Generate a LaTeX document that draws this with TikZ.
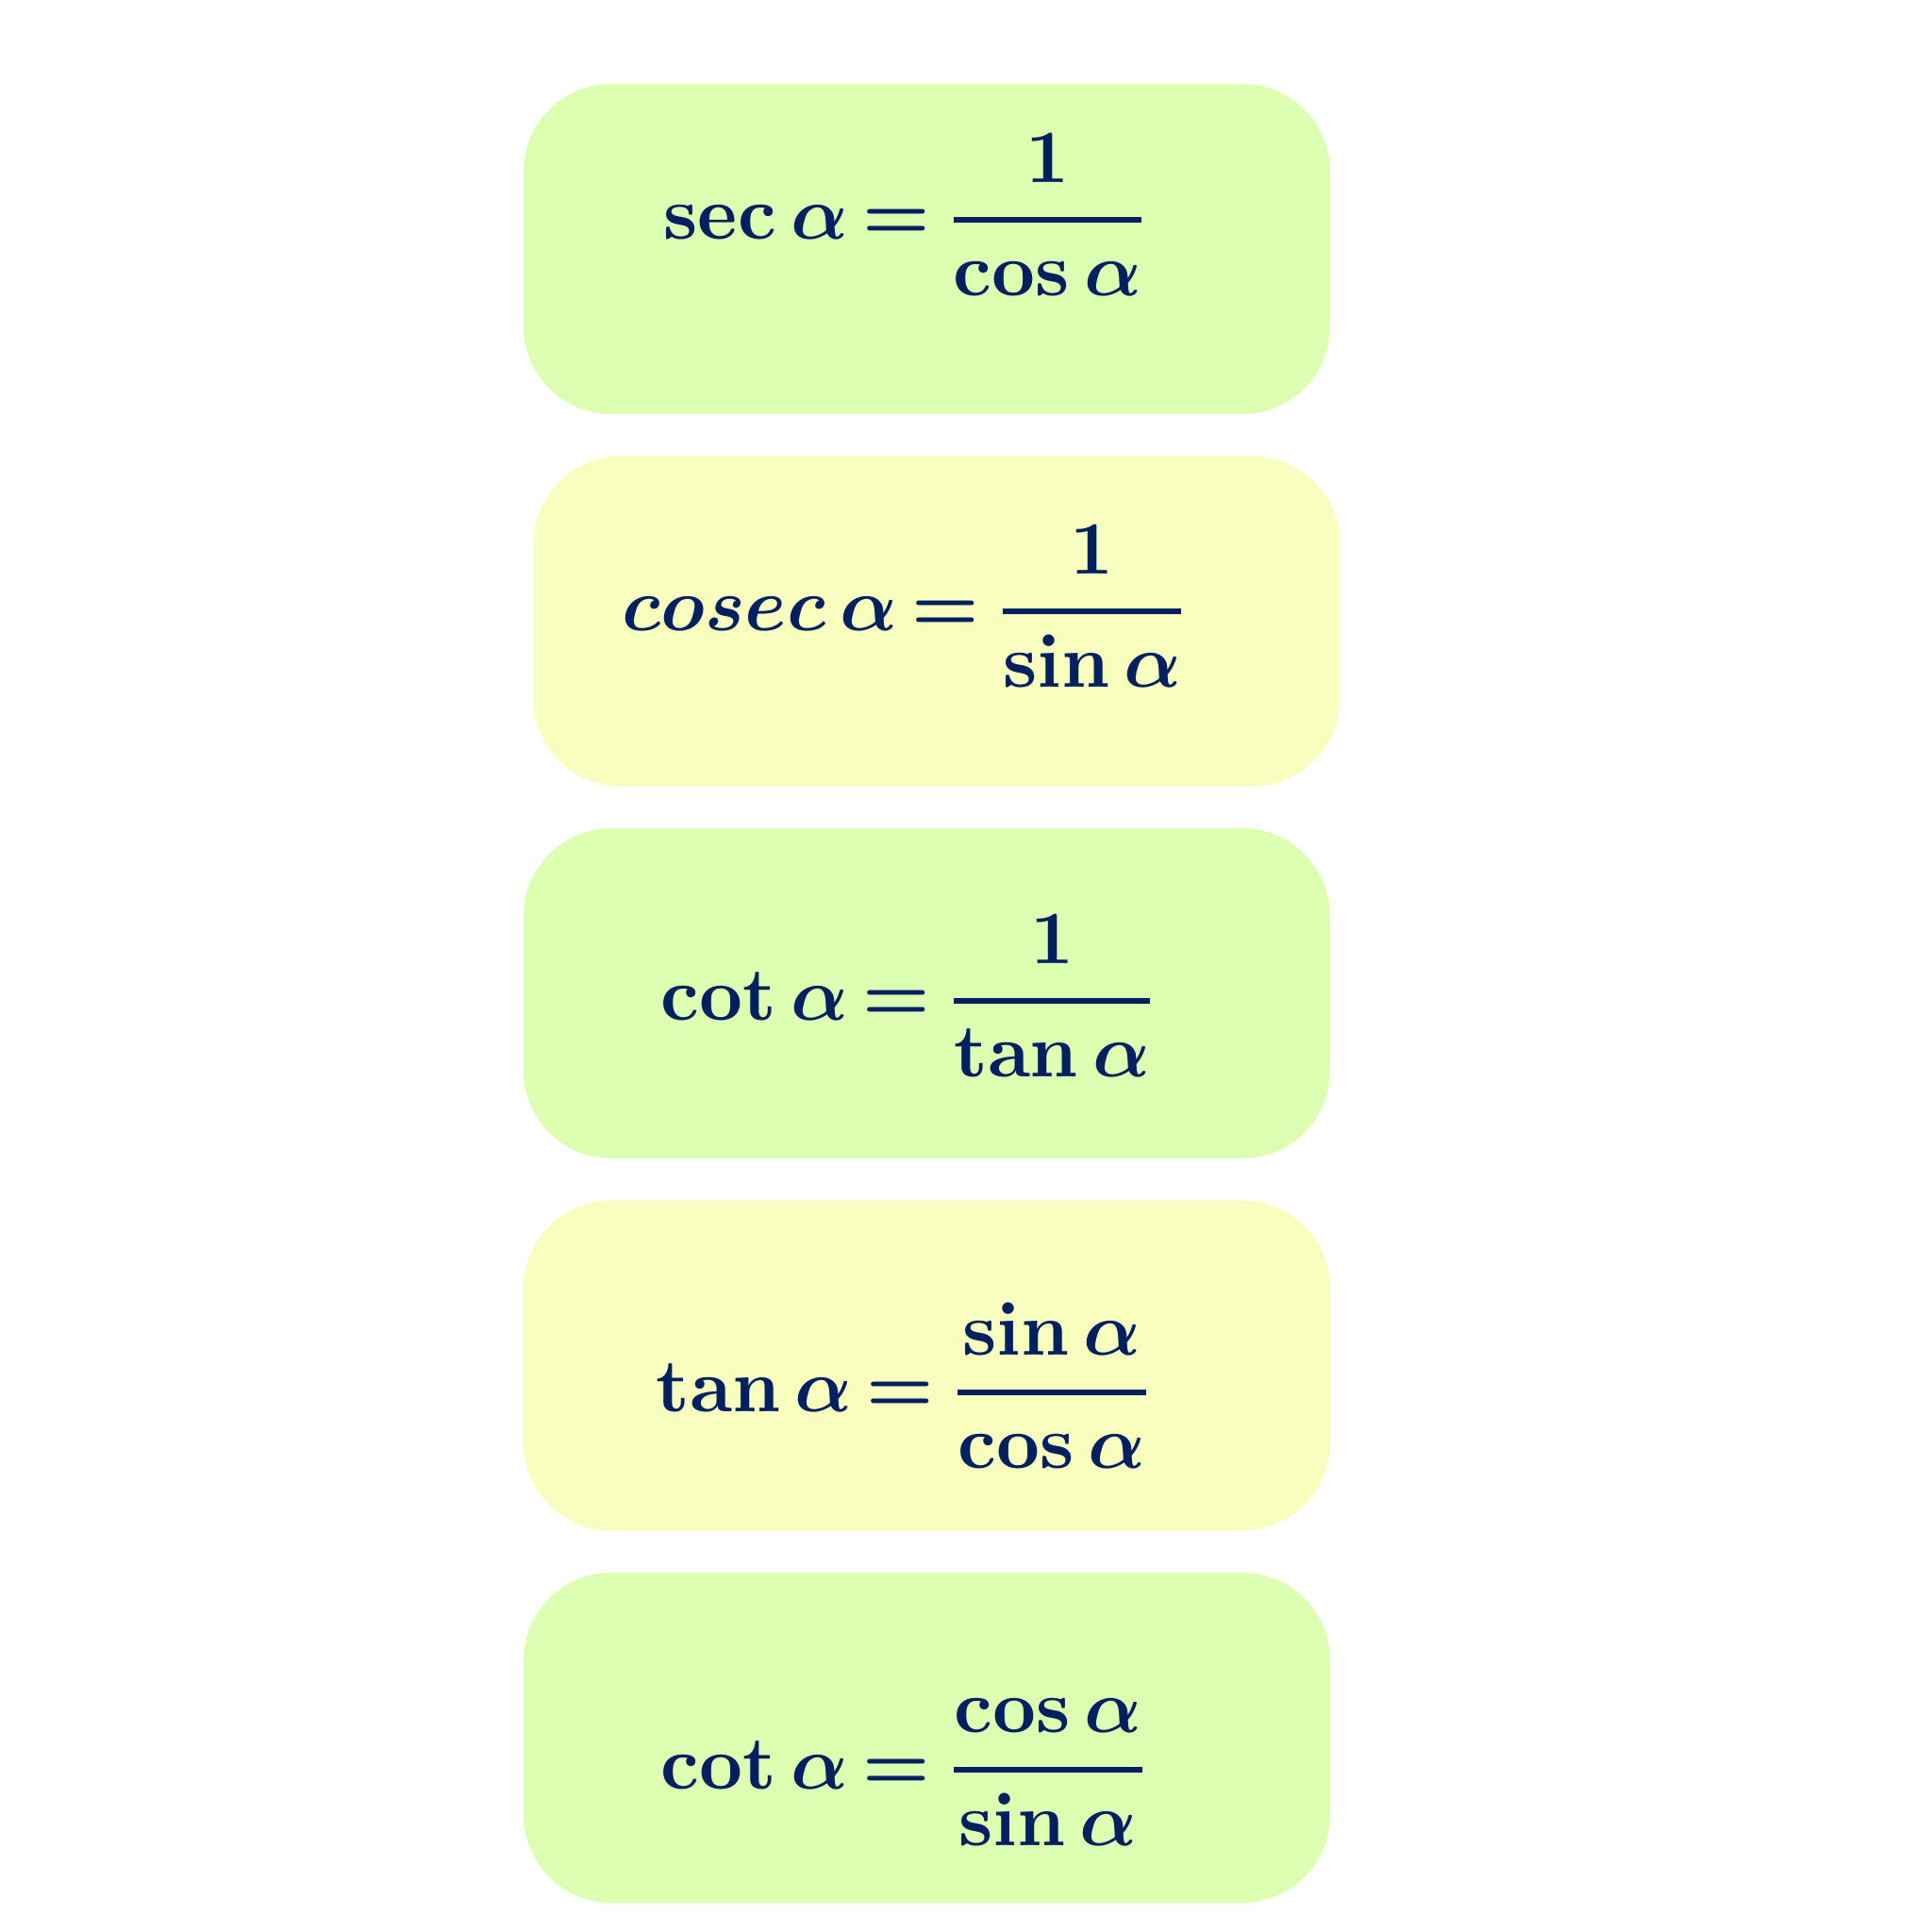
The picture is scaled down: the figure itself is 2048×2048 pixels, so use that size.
\documentclass[tikz,border=0pt]{standalone}
\usepackage{amsmath}
\definecolor{boxgreen}{RGB}{221,255,177}
\definecolor{boxyellow}{RGB}{248,255,190}
\definecolor{txtnavy}{RGB}{0,32,96}
\newcommand{\myfrac}[2]{\genfrac{}{}{0.65pt}{0}{#1}{#2}}
\newcommand{\narrowrel}{\thickmuskip=3mu\relax}
\begin{document}
\begin{tikzpicture}[x=1pt,y=-1pt,
  formbox/.style={rectangle, rounded corners=93pt, minimum width=855pt,
    minimum height=350pt, inner sep=0pt, draw=none},
  formula/.style={anchor=base west, inner sep=0pt, text=txtnavy, scale=8,
    font=\boldmath\narrowrel}]
\useasboundingbox (0,0) rectangle (2048,2048);
\fill[white] (0,0) rectangle (2048,2048);
% boxes
\node[formbox, fill=boxgreen]  (box1) at (982.5,264)  {};
\node[formbox, fill=boxyellow] (box2) at (993,658.5)  {};
\node[formbox, fill=boxgreen]  (box3) at (982.5,1053) {};
\node[formbox, fill=boxyellow] (box4) at (982.5,1447.5) {};
\node[formbox, fill=boxgreen]  (box5) at (982.5,1842) {};
% formulas
\node[formula] (eq1) at (702,253)  {$\sec\alpha = \myfrac{1}{\cos\alpha}$};
\node[formula] (eq2) at (658,668)  {$cosec\,\alpha = \myfrac{1}{\sin\alpha}$};
\node[formula] (eq3) at (699,1081) {$\cot\alpha = \myfrac{1}{\tan\alpha}$};
\node[formula] (eq4) at (694,1496) {$\tan\alpha = \myfrac{\sin\alpha}{\cos\alpha}$};
\node[formula] (eq5) at (699,1896) {$\cot\alpha = \myfrac{\cos\alpha}{\sin\alpha}$};
\end{tikzpicture}
\end{document}
